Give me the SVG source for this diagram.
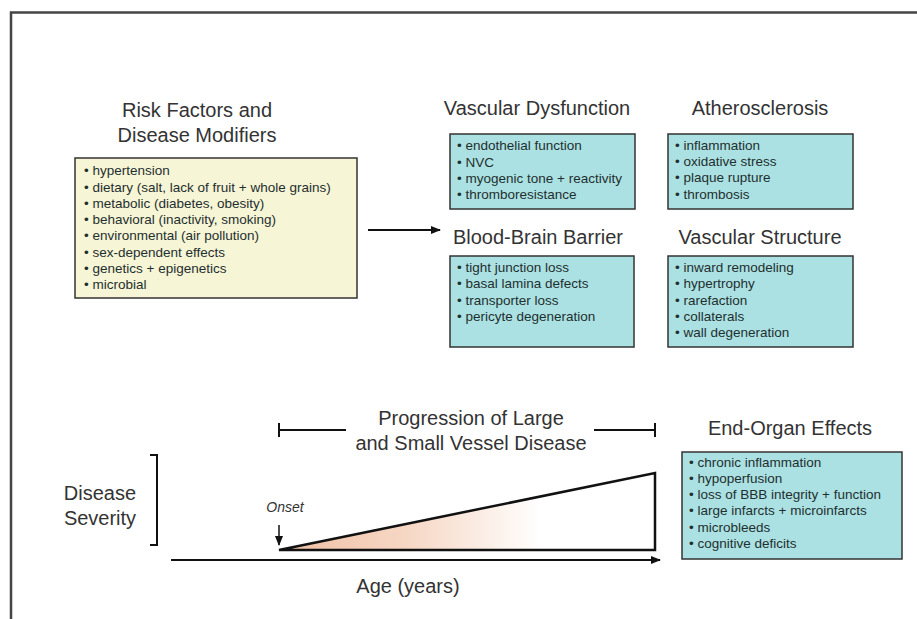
<svg xmlns="http://www.w3.org/2000/svg" width="917" height="619" viewBox="0 0 917 619">
<defs>
<marker id="ah" markerWidth="10" markerHeight="8" refX="9" refY="4" orient="auto" markerUnits="userSpaceOnUse">
<path d="M0,0 L10,4 L0,8 Z" fill="#111"/>
</marker>
<linearGradient id="sev" x1="0" y1="0" x2="1" y2="0">
<stop offset="0" stop-color="#f1bfa3"/>
<stop offset="0.35" stop-color="#f6d8c6"/>
<stop offset="0.7" stop-color="#ffffff"/>
<stop offset="1" stop-color="#ffffff"/>
</linearGradient>
<style>
.ttl{font-family:"Liberation Sans",Arial,sans-serif;font-size:20px;fill:#333;text-anchor:middle}
.itm{font-family:"Liberation Sans",Arial,sans-serif;font-size:13.5px;fill:#1f2f2f}
.ybox{fill:#f6f5d6;stroke:#333;stroke-width:1.5}
.cbox{fill:#abe1e2;stroke:#333;stroke-width:1.5}
.ln{stroke:#111;stroke-width:2;fill:none}
</style>
</defs>
<rect width="917" height="619" fill="#fff"/>
<rect x="11" y="12.5" width="920" height="620" fill="none" stroke="#444" stroke-width="2.5"/>

<g id="risk">
<text class="ttl" x="197" y="117">Risk Factors and</text>
<text class="ttl" x="197" y="142">Disease Modifiers</text>
<rect class="ybox" x="75" y="158" width="282" height="140"/>
<text class="itm" x="84" y="175">• hypertension</text>
<text class="itm" x="84" y="191.5">• dietary (salt, lack of fruit + whole grains)</text>
<text class="itm" x="84" y="207.8">• metabolic (diabetes, obesity)</text>
<text class="itm" x="84" y="224">• behavioral (inactivity, smoking)</text>
<text class="itm" x="84" y="240.4">• environmental (air pollution)</text>
<text class="itm" x="84" y="256.7">• sex-dependent effects</text>
<text class="itm" x="84" y="273">• genetics + epigenetics</text>
<text class="itm" x="84" y="289.3">• microbial</text>
</g>

<g id="vascular-dysfunction">
<text class="ttl" x="537" y="115">Vascular Dysfunction</text>
<rect class="cbox" x="450" y="134" width="185" height="75"/>
<text class="itm" x="457" y="150">• endothelial function</text>
<text class="itm" x="457" y="166.5">• NVC</text>
<text class="itm" x="457" y="182.8">• myogenic tone + reactivity</text>
<text class="itm" x="457" y="199">• thromboresistance</text>
</g>

<g id="atherosclerosis">
<text class="ttl" x="760" y="115">Atherosclerosis</text>
<rect class="cbox" x="668" y="134" width="185" height="75"/>
<text class="itm" x="675" y="149.5">• inflammation</text>
<text class="itm" x="675" y="166">• oxidative stress</text>
<text class="itm" x="675" y="182.3">• plaque rupture</text>
<text class="itm" x="675" y="198.5">• thrombosis</text>
</g>

<g id="bbb">
<text class="ttl" x="538" y="244">Blood-Brain Barrier</text>
<rect class="cbox" x="450" y="256" width="184" height="91"/>
<text class="itm" x="457" y="272">• tight junction loss</text>
<text class="itm" x="457" y="288.3">• basal lamina defects</text>
<text class="itm" x="457" y="304.6">• transporter loss</text>
<text class="itm" x="457" y="320.9">• pericyte degeneration</text>
</g>

<g id="vascular-structure">
<text class="ttl" x="760" y="244">Vascular Structure</text>
<rect class="cbox" x="668" y="256" width="185" height="91"/>
<text class="itm" x="675" y="272">• inward remodeling</text>
<text class="itm" x="675" y="288.3">• hypertrophy</text>
<text class="itm" x="675" y="304.6">• rarefaction</text>
<text class="itm" x="675" y="320.9">• collaterals</text>
<text class="itm" x="675" y="337.2">• wall degeneration</text>
</g>

<g id="end-organ">
<text class="ttl" x="790" y="435">End-Organ Effects</text>
<rect class="cbox" x="682" y="452" width="220" height="107"/>
<text class="itm" x="689" y="466.5">• chronic inflammation</text>
<text class="itm" x="689" y="482.8">• hypoperfusion</text>
<text class="itm" x="689" y="499.1">• loss of BBB integrity + function</text>
<text class="itm" x="689" y="515.4">• large infarcts + microinfarcts</text>
<text class="itm" x="689" y="531.7">• microbleeds</text>
<text class="itm" x="689" y="548">• cognitive deficits</text>
</g>

<g id="progression">
<text class="ttl" x="471" y="425">Progression of Large</text>
<text class="ttl" x="471" y="450">and Small Vessel Disease</text>
<path class="ln" d="M279,430 H346 M594,430 H655 M279,423 V437 M655,423 V437"/>
</g>

<g id="severity-chart">
<path d="M279,550 L655,473 L655,550 Z" fill="url(#sev)" stroke="#111" stroke-width="2.5" stroke-linejoin="miter"/>
<text x="285" y="512" font-family="Liberation Sans,Arial,sans-serif" font-size="14" font-style="italic" fill="#333" text-anchor="middle">Onset</text>
</g>

<g id="disease-severity">
<text class="ttl" x="100" y="500">Disease</text>
<text class="ttl" x="100" y="525">Severity</text>
<path class="ln" d="M150,455 H157 V545 H150"/>
</g>

<g id="age">
<text class="ttl" x="408" y="593">Age (years)</text>
</g>

<g id="connectors">
<line class="ln" x1="368" y1="230" x2="440" y2="230" marker-end="url(#ah)"/>
<line class="ln" x1="171" y1="560" x2="660" y2="560" marker-end="url(#ah)"/>
<line x1="279" y1="525" x2="279" y2="545" stroke="#111" stroke-width="1.5" marker-end="url(#ah)"/>
</g>
</svg>
